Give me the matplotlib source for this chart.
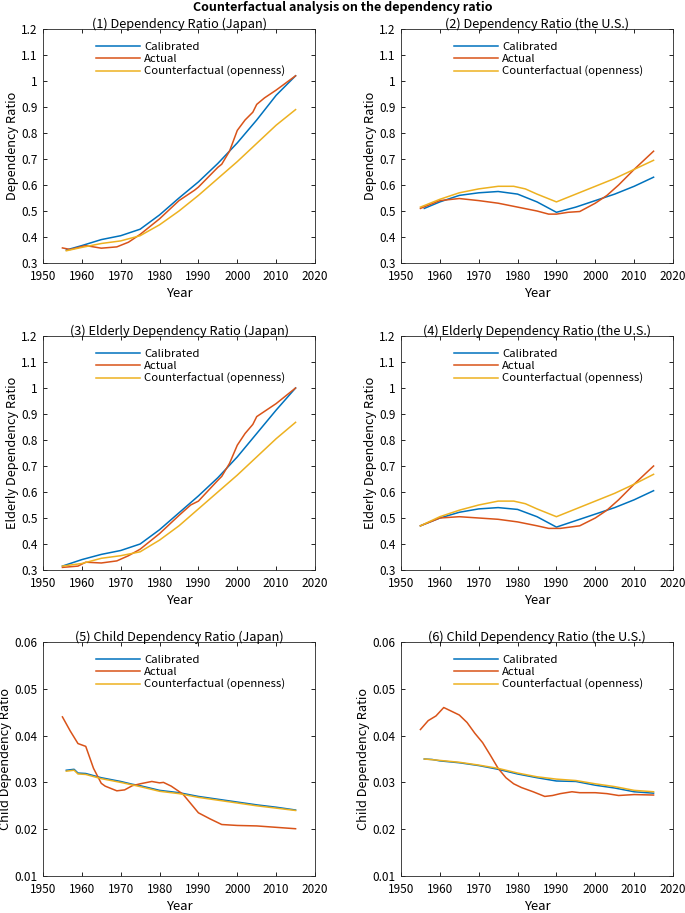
import numpy as np
import matplotlib
matplotlib.use("Agg")
import matplotlib.pyplot as plt

plt.rcParams['font.family'] = ['Noto Sans CJK JP', 'DejaVu Sans']

# MATLAB default colours
c_cal = '#0072BD'
c_act = '#D95319'
c_cf = '#EDB120'

# (1) Dependency ratio, Japan
jp_dr_cal_y = [1956, 1960, 1965, 1970, 1975, 1980, 1985, 1990, 1995, 2000, 2005, 2010, 2015]
jp_dr_cal = [0.35, 0.367, 0.39, 0.405, 0.43, 0.485, 0.55, 0.612, 0.683, 0.762, 0.85, 0.945, 1.02]
jp_dr_act_y = [1955, 1957, 1961, 1965, 1969, 1972, 1975, 1980, 1985, 1989, 1990, 1995, 1996, 1998, 2000, 2002, 2004, 2005, 2007, 2010, 2015]
jp_dr_act = [0.358, 0.352, 0.367, 0.357, 0.362, 0.38, 0.41, 0.47, 0.54, 0.58, 0.592, 0.668, 0.68, 0.73, 0.81, 0.85, 0.88, 0.91, 0.935, 0.965, 1.02]
jp_dr_cf_y = [1956, 1960, 1965, 1970, 1975, 1980, 1985, 1990, 1995, 2000, 2005, 2010, 2015]
jp_dr_cf = [0.347, 0.36, 0.375, 0.385, 0.405, 0.447, 0.5, 0.56, 0.625, 0.69, 0.76, 0.83, 0.89]

# (2) Dependency ratio, U.S.
us_dr_cal_y = [1956, 1960, 1965, 1970, 1975, 1980, 1985, 1990, 1995, 2000, 2005, 2010, 2015]
us_dr_cal = [0.51, 0.535, 0.56, 0.57, 0.575, 0.565, 0.535, 0.495, 0.515, 0.54, 0.565, 0.595, 0.63]
us_dr_act_y = [1955, 1960, 1965, 1970, 1975, 1980, 1985, 1988, 1990, 1993, 1996, 2000, 2003, 2006, 2010, 2015]
us_dr_act = [0.51, 0.54, 0.548, 0.54, 0.53, 0.515, 0.5, 0.488, 0.488, 0.495, 0.498, 0.53, 0.56, 0.6, 0.66, 0.73]
us_dr_cf_y = [1955, 1960, 1965, 1970, 1975, 1979, 1982, 1985, 1990, 1995, 2000, 2005, 2010, 2015]
us_dr_cf = [0.515, 0.545, 0.57, 0.585, 0.595, 0.595, 0.585, 0.565, 0.535, 0.565, 0.595, 0.625, 0.66, 0.695]

# (3) Elderly dependency ratio, Japan
jp_edr_cal_y = [1955, 1960, 1965, 1970, 1975, 1980, 1985, 1990, 1995, 2000, 2005, 2010, 2015]
jp_edr_cal = [0.315, 0.34, 0.36, 0.375, 0.4, 0.455, 0.52, 0.585, 0.655, 0.735, 0.825, 0.915, 1.0]
jp_edr_act_y = [1955, 1959, 1961, 1965, 1969, 1972, 1975, 1980, 1985, 1988, 1990, 1995, 1996, 1998, 2000, 2002, 2004, 2005, 2007, 2010, 2015]
jp_edr_act = [0.31, 0.315, 0.33, 0.327, 0.335, 0.355, 0.38, 0.44, 0.51, 0.55, 0.565, 0.645, 0.66, 0.71, 0.78, 0.825, 0.86, 0.89, 0.91, 0.94, 1.0]
jp_edr_cf_y = [1955, 1960, 1965, 1970, 1975, 1980, 1985, 1990, 1995, 2000, 2005, 2010, 2015]
jp_edr_cf = [0.315, 0.325, 0.345, 0.355, 0.37, 0.415, 0.47, 0.535, 0.6, 0.665, 0.735, 0.805, 0.868]

# (4) Elderly dependency ratio, U.S.
us_edr_cal_y = [1955, 1960, 1965, 1970, 1975, 1980, 1985, 1990, 1995, 2000, 2005, 2010, 2015]
us_edr_cal = [0.47, 0.5, 0.522, 0.535, 0.54, 0.533, 0.505, 0.465, 0.49, 0.515, 0.54, 0.57, 0.605]
us_edr_act_y = [1955, 1960, 1965, 1970, 1975, 1980, 1985, 1988, 1991, 1996, 2000, 2003, 2006, 2010, 2015]
us_edr_act = [0.47, 0.5, 0.505, 0.5, 0.495, 0.485, 0.47, 0.46, 0.46, 0.47, 0.5, 0.53, 0.57, 0.63, 0.7]
us_edr_cf_y = [1955, 1960, 1965, 1970, 1975, 1979, 1982, 1985, 1990, 1995, 2000, 2005, 2010, 2015]
us_edr_cf = [0.47, 0.505, 0.53, 0.55, 0.565, 0.565, 0.555, 0.535, 0.505, 0.535, 0.565, 0.595, 0.63, 0.668]

# (5) Child dependency ratio, Japan
jp_cdr_cal_y = [1956, 1958, 1959, 1961, 1965, 1970, 1973, 1975, 1980, 1985, 1990, 1995, 2000, 2005, 2010, 2015]
jp_cdr_cal = [0.0326, 0.0328, 0.032, 0.0319, 0.031, 0.0302, 0.0296, 0.0293, 0.0283, 0.0278, 0.027, 0.0264, 0.0258, 0.0252, 0.0247, 0.0241]
jp_cdr_act_y = [1955, 1957, 1959, 1961, 1963, 1965, 1966, 1969, 1971, 1973, 1975, 1978, 1980, 1981, 1983, 1986, 1988, 1990, 1993, 1996, 2000, 2005, 2010, 2015]
jp_cdr_act = [0.044, 0.041, 0.0383, 0.0377, 0.033, 0.0298, 0.0292, 0.0282, 0.0284, 0.0293, 0.0297, 0.0302, 0.0299, 0.03, 0.0292, 0.0275, 0.0255, 0.0235, 0.0222, 0.021, 0.0208, 0.0207, 0.0204, 0.0201]
jp_cdr_cf_y = [1956, 1958, 1959, 1961, 1965, 1970, 1975, 1980, 1985, 1990, 1995, 2000, 2005, 2010, 2015]
jp_cdr_cf = [0.0324, 0.0326, 0.0318, 0.0317, 0.0308, 0.03, 0.0291, 0.0281, 0.0276, 0.0268, 0.0262, 0.0256, 0.025, 0.0245, 0.024]

# (6) Child dependency ratio, U.S.
us_cdr_cal_y = [1956, 1958, 1960, 1965, 1970, 1975, 1980, 1985, 1990, 1995, 2000, 2005, 2010, 2015]
us_cdr_cal = [0.035, 0.0349, 0.0346, 0.0342, 0.0336, 0.0328, 0.0318, 0.031, 0.0303, 0.0302, 0.0294, 0.0288, 0.028, 0.0277]
us_cdr_act_y = [1955, 1957, 1959, 1961, 1963, 1965, 1967, 1969, 1971, 1973, 1975, 1977, 1979, 1981, 1984, 1987, 1989, 1991, 1994, 1996, 2000, 2003, 2006, 2010, 2015]
us_cdr_act = [0.0413, 0.0432, 0.0442, 0.046, 0.0452, 0.0444, 0.0428, 0.0405, 0.0385, 0.0358, 0.033, 0.031, 0.0297, 0.0289, 0.028, 0.027, 0.0272, 0.0276, 0.028, 0.0278, 0.0278, 0.0276, 0.0272, 0.0274, 0.0273]
us_cdr_cf_y = [1956, 1960, 1965, 1970, 1975, 1980, 1985, 1990, 1995, 2000, 2005, 2010, 2015]
us_cdr_cf = [0.035, 0.0347, 0.0343, 0.0337, 0.033, 0.032, 0.0312, 0.0307, 0.0304, 0.0297, 0.0291, 0.0283, 0.028]

legend_labels = ['Calibrated', 'Actual', 'Counterfactual (openness)']

panels = [
    ('(1) Dependency Ratio (Japan)', 'Dependency Ratio', (0.3, 1.2), 0.1,
     (jp_dr_cal_y, jp_dr_cal), (jp_dr_act_y, jp_dr_act), (jp_dr_cf_y, jp_dr_cf)),
    ('(2) Dependency Ratio (the U.S.)', 'Dependency Ratio', (0.3, 1.2), 0.1,
     (us_dr_cal_y, us_dr_cal), (us_dr_act_y, us_dr_act), (us_dr_cf_y, us_dr_cf)),
    ('(3) Elderly Dependency Ratio (Japan)', 'Elderly Dependency Ratio', (0.3, 1.2), 0.1,
     (jp_edr_cal_y, jp_edr_cal), (jp_edr_act_y, jp_edr_act), (jp_edr_cf_y, jp_edr_cf)),
    ('(4) Elderly Dependency Ratio (the U.S.)', 'Elderly Dependency Ratio', (0.3, 1.2), 0.1,
     (us_edr_cal_y, us_edr_cal), (us_edr_act_y, us_edr_act), (us_edr_cf_y, us_edr_cf)),
    ('(5) Child Dependency Ratio (Japan)', 'Child Dependency Ratio', (0.01, 0.06), 0.01,
     (jp_cdr_cal_y, jp_cdr_cal), (jp_cdr_act_y, jp_cdr_act), (jp_cdr_cf_y, jp_cdr_cf)),
    ('(6) Child Dependency Ratio (the U.S.)', 'Child Dependency Ratio', (0.01, 0.06), 0.01,
     (us_cdr_cal_y, us_cdr_cal), (us_cdr_act_y, us_cdr_act), (us_cdr_cf_y, us_cdr_cf)),
]

W, H = 685, 913
fig = plt.figure(figsize=(W / 100, H / 100), dpi=100)

lefts = [43, 401]
tops = [29, 336, 642]
aw, ah = 272, 234

def fmt(v):
    s = ('%.2f' % v).rstrip('0').rstrip('.')
    return s

for k, (title, ylab, ylim, step, cal, act, cf) in enumerate(panels):
    r, c = divmod(k, 2)
    ax = fig.add_axes([lefts[c] / W, 1 - (tops[r] + ah) / H, aw / W, ah / H])
    ax.plot(cal[0], cal[1], color=c_cal, lw=1.1, label=legend_labels[0])
    ax.plot(act[0], act[1], color=c_act, lw=1.1, label=legend_labels[1])
    ax.plot(cf[0], cf[1], color=c_cf, lw=1.1, label=legend_labels[2])
    ax.set_xlim(1950, 2020)
    ax.set_ylim(*ylim)
    ax.set_xticks(np.arange(1950, 2021, 10))
    yt = np.arange(ylim[0], ylim[1] + step / 2, step)
    ax.set_yticks(yt)
    ax.set_yticklabels([fmt(v) for v in yt])
    ax.tick_params(direction='in', top=True, right=True, length=3, labelsize=8.5,
                   width=0.6)
    ax.tick_params(axis='x', pad=5)
    ax.tick_params(axis='y', pad=4)
    for sp in ax.spines.values():
        sp.set_linewidth(0.6)
        sp.set_color('#262626')
    ax.set_title(title, fontsize=9.2, pad=1)
    ax.set_ylabel(ylab, fontsize=9.2, labelpad=1.5)
    ax.set_xlabel('Year', fontsize=9.5, labelpad=3)
    ax.legend(loc='upper left', bbox_to_anchor=(0.17, 0.972), frameon=False,
              fontsize=8.2, handlelength=3.9, handletextpad=0.3, labelspacing=0.15,
              borderaxespad=0.2)

fig.text(0.5, 1 - 7 / H, 'Counterfactual analysis on the dependency ratio',
         ha='center', va='center', fontsize=9, fontweight='bold')

fig.savefig('out.png', dpi=100)
